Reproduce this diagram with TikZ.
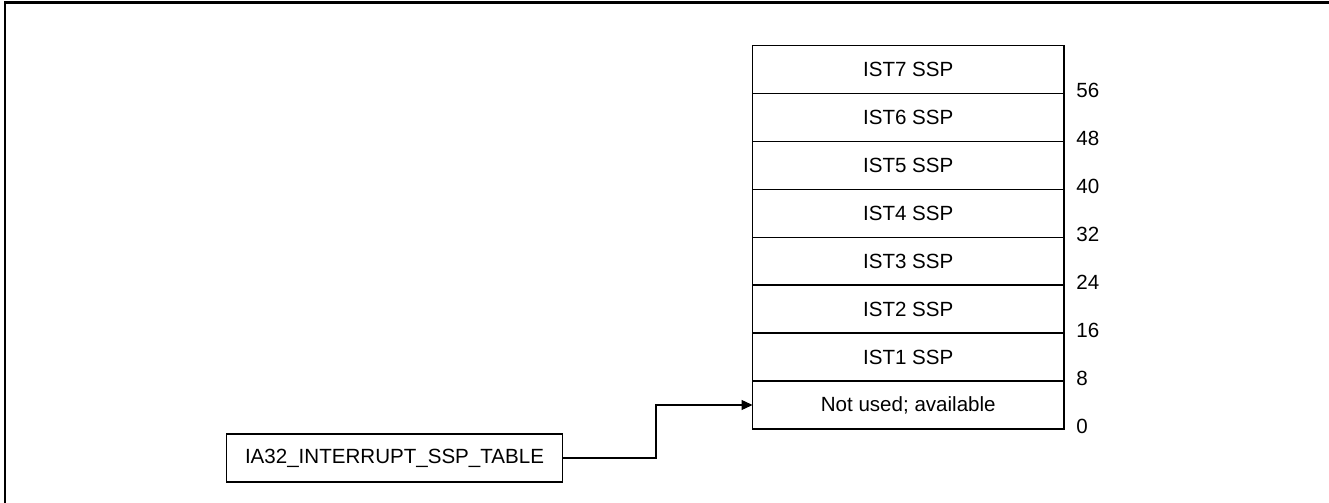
\documentclass[tikz,border=0pt]{standalone}
\usepackage{fontspec}
\setmainfont{Liberation Sans}
\usetikzlibrary{arrows.meta}
\usetikzlibrary{positioning}

\begin{document}
\begin{tikzpicture}[>={Triangle[length=0.22cm, width=0.2cm]}, x=0.02cm, y=-0.02cm,
  font=\fontsize{11.7}{14}\selectfont,
  slot/.style={draw, line width=0.6pt, minimum width=6.23cm, minimum height=0.96cm, inner sep=0pt, outer sep=0pt},
  offset/.style={anchor=west, inner sep=0pt}]
  \useasboundingbox (0,0) rectangle (1329,503);

  % frame
  \draw[line width=1.4pt] (5,503) -- (5,2.7) -- (1329,2.7);

  % SSP table
  \node[slot] (s0) at (908.25,405) {Not used; available};
  \foreach \i [remember=\i as \last (initially 0)] in {1,...,7}
    \node[slot, above=0pt of s\last] (s\i) {IST\i{} SSP};

  % byte offsets
  \foreach \i [evaluate=\i as \off using int(8*\i)] in {0,...,7}
    \node[offset] (o\i) at ([xshift=0.24cm, yshift=0.05cm]s\i.south east) {\off};

  % MSR
  \node[slot, minimum width=6.74cm] (msr) at (394.5,458) {IA32\_INTERRUPT\_SSP\_TABLE};
  \draw[->, line width=0.6pt] (msr.east) -- ++(93,0) |- (s0.west);
\end{tikzpicture}
\end{document}
